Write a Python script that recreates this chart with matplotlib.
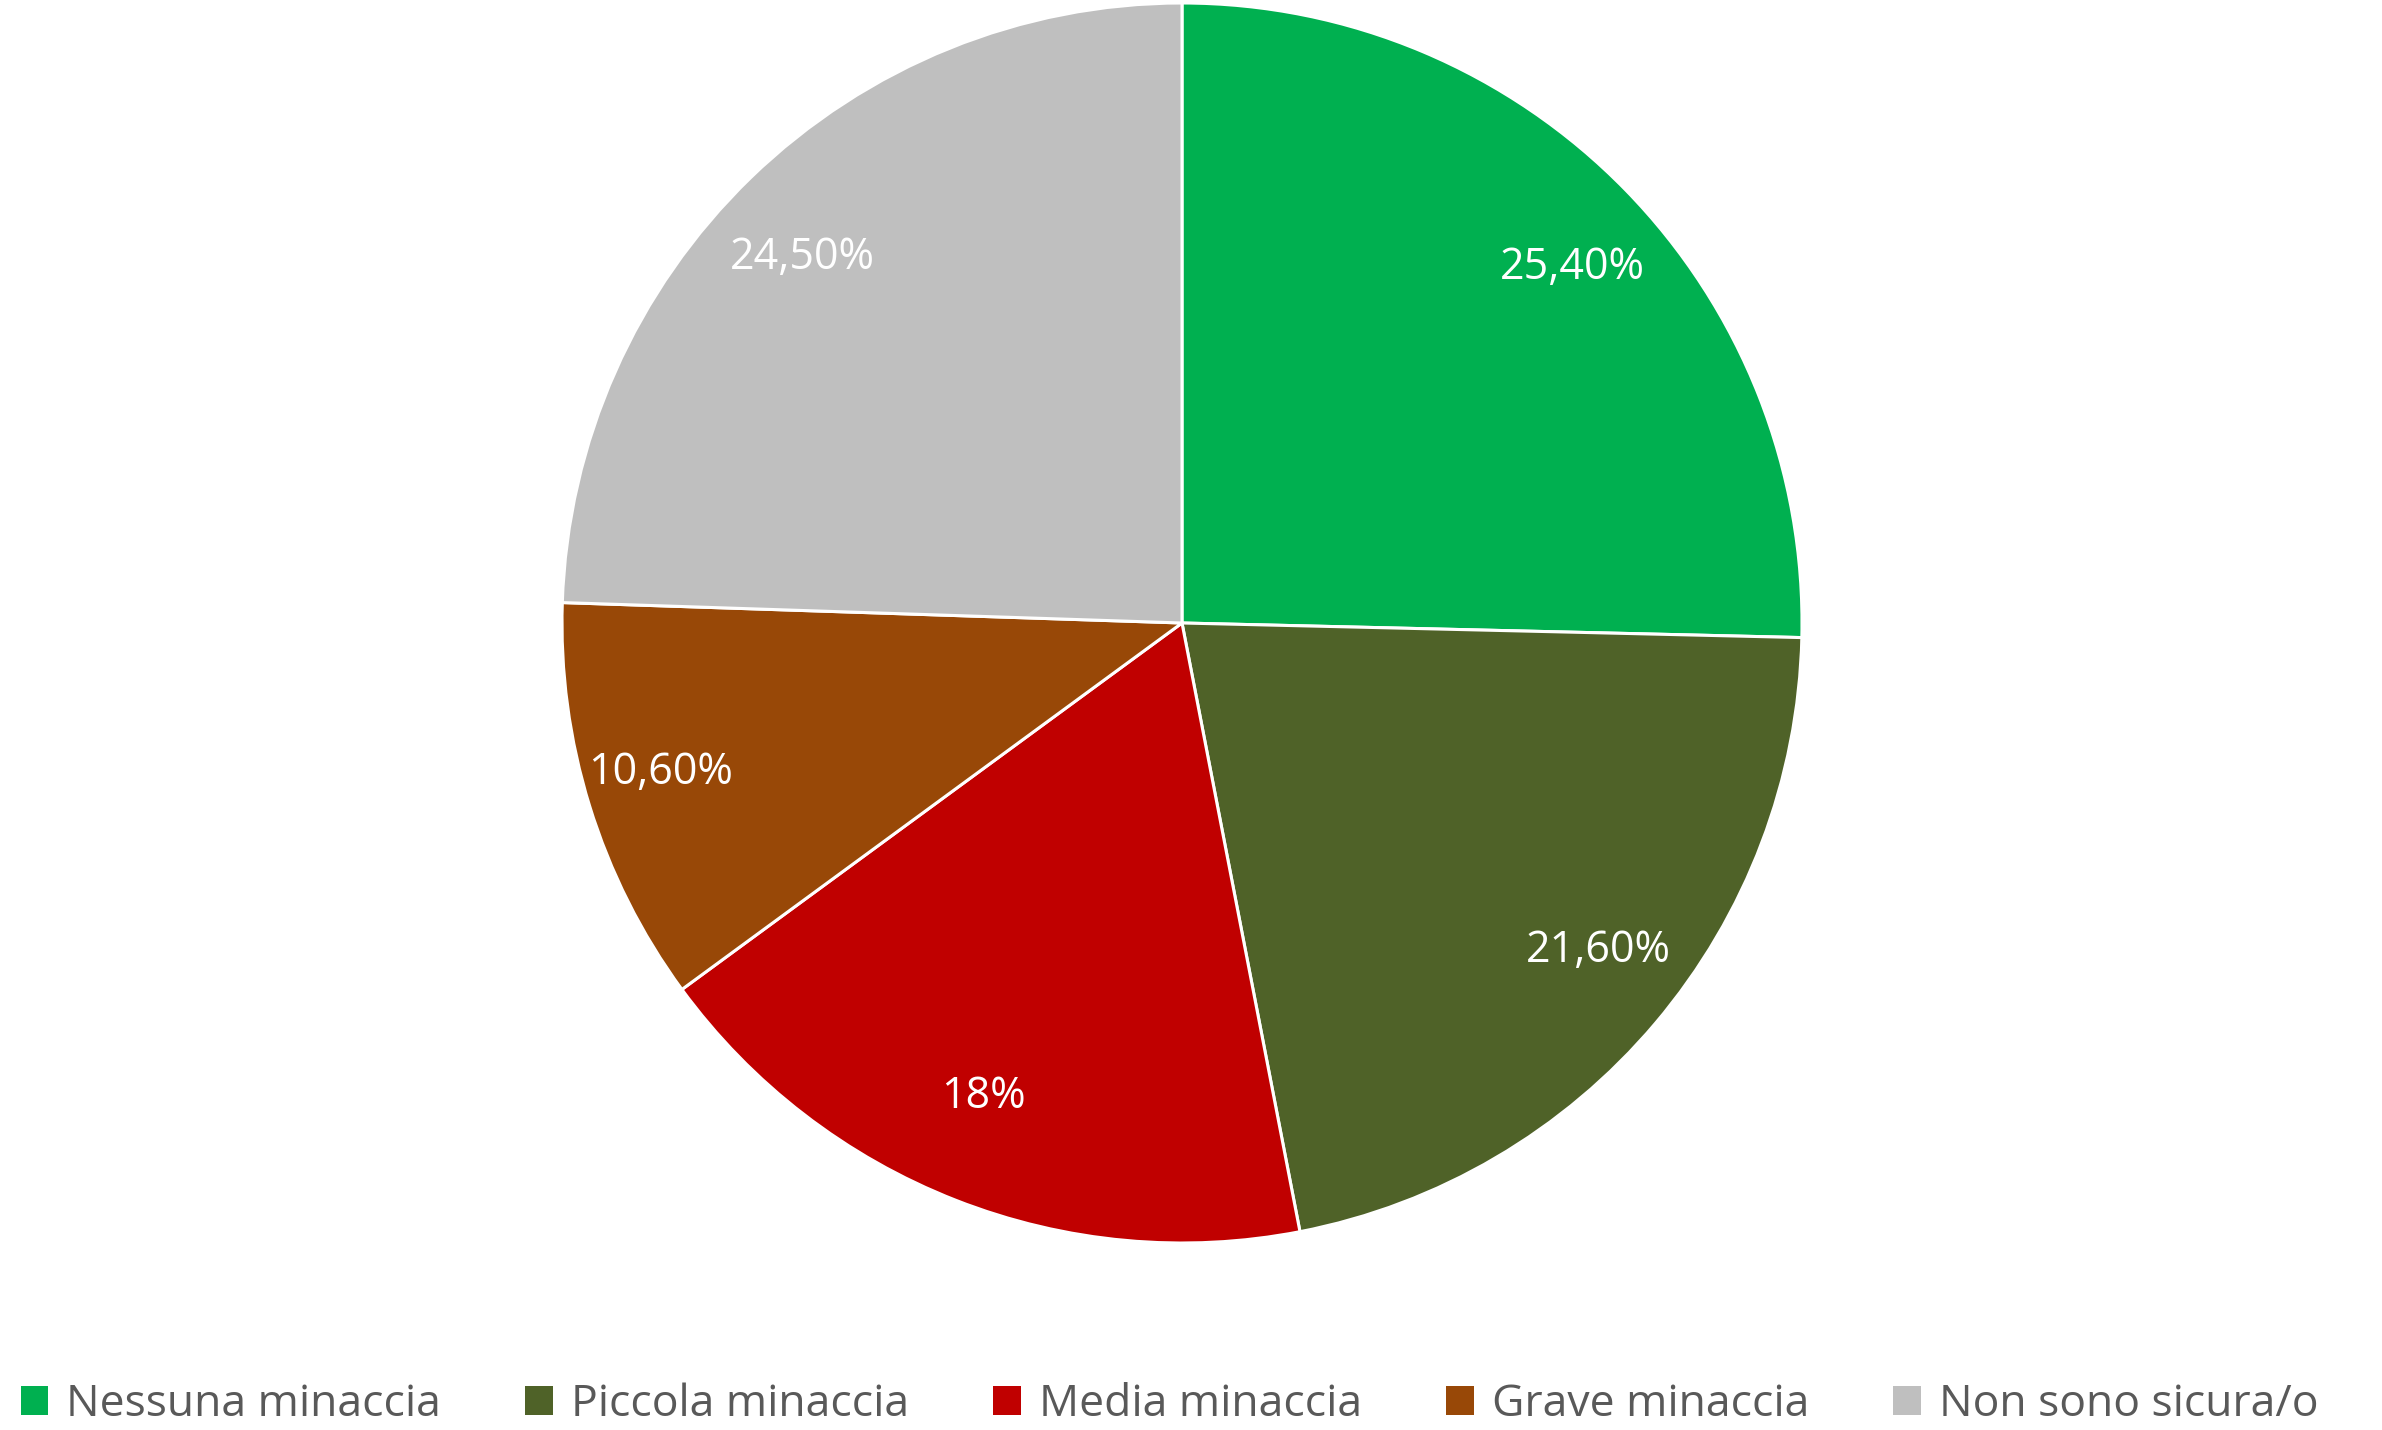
import matplotlib
matplotlib.use("Agg")
import matplotlib.pyplot as plt
from matplotlib.patches import Patch
import numpy as np

categories = ["Nessuna minaccia", "Piccola minaccia", "Media minaccia",
              "Grave minaccia", "Non sono sicura/o"]
values = [25.4, 21.6, 18.0, 10.6, 24.5]
value_labels = ["25,40%", "21,60%", "18%", "10,60%", "24,50%"]
colors = ["#00B050", "#4F6228", "#C00000", "#984807", "#BFBFBF"]

plt.rcParams["font.family"] = ["Open Sans", "DejaVu Sans"]

fig = plt.figure(figsize=(23.82, 14.30), dpi=100)
# pie centre ~ (1182, 623) px, radius ~620 px
ax = fig.add_axes([(1182 - 620) / 2382, 1 - (623 + 620) / 1430,
                   1240 / 2382, 1240 / 1430])
wedges, _ = ax.pie(values, colors=colors, startangle=90, counterclock=False,
                   radius=1.0, wedgeprops=dict(edgecolor="white", linewidth=2.2))
ax.set_xlim(-1, 1); ax.set_ylim(-1, 1)
ax.set_aspect("equal")

# labels sit a bit flatter than the mid-angle, like Excel does it
tot = sum(values)
ang = 90.0
for v, lab in zip(values, value_labels):
    mid = np.deg2rad(ang - v / tot * 360 / 2)
    ang -= v / tot * 360
    ax.text(0.88 * np.cos(mid), 0.82 * np.sin(mid), lab, color="white",
            fontsize=31, ha="center", va="center")

handles = [Patch(facecolor=c, edgecolor="none") for c in colors]
fig.legend(handles, categories, loc="center", bbox_to_anchor=(0.491, 1 - 1405 / 1430),
           ncol=5, frameon=False, fontsize=32, labelcolor="#595959",
           handlelength=0.62, handleheight=0.62, handletextpad=0.4, columnspacing=1.9)

fig.savefig("out.png", dpi=100)
